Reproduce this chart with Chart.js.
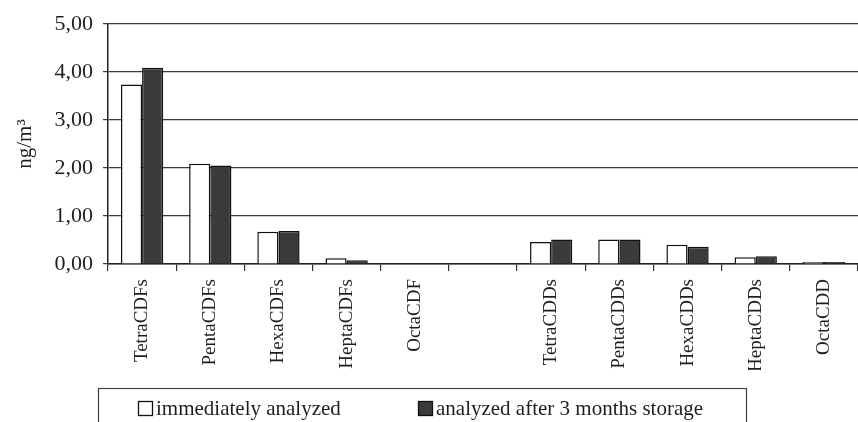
<!DOCTYPE html>
<html><head><meta charset="utf-8">
<script src="https://cdn.jsdelivr.net/npm/chart.js@4"></script>
<style>html,body{margin:0;padding:0;background:#fff}</style>
</head><body>
<canvas id="c" width="858" height="422"></canvas>
<script>
const categories = ['TetraCDFs','PentaCDFs','HexaCDFs','HeptaCDFs','OctaCDF','','TetraCDDs','PentaCDDs','HexaCDDs','HeptaCDDs','OctaCDD'];
const immediatelyAnalyzed = [3.74, 2.09, 0.67, 0.12, 0.01, null, 0.46, 0.51, 0.40, 0.14, 0.04];
const afterStorage        = [4.09, 2.05, 0.69, 0.08, 0.01, null, 0.51, 0.51, 0.36, 0.16, 0.04];
const seriesNames = ['immediately analyzed', 'analyzed after 3 months storage'];
const yTickValues = [0, 1, 2, 3, 4, 5];
const yTitle = 'ng/m\u00B3';

const FONT = '"Liberation Serif", "Times New Roman", serif';
const INK = '#1e1e1e';
const DARK = '#3a3a3a';

const legendBox = {
  id: 'legendBox',
  afterDraw(chart) {
    const ctx = chart.ctx;
    ctx.save();
    ctx.strokeStyle = '#444';
    ctx.lineWidth = 1.2;
    ctx.strokeRect(98.5, 388.5, 648, 60);
    ctx.font = '21px ' + FONT;
    ctx.textBaseline = 'alphabetic';
    const xs = [138, 418];
    chart.data.datasets.forEach((ds, i) => {
      const x = xs[i];
      ctx.fillStyle = ds.backgroundColor;
      ctx.fillRect(x, 401.5, 14, 14);
      ctx.strokeStyle = '#111';
      ctx.lineWidth = 1.3;
      ctx.strokeRect(x + 0.5, 401.5, 14, 14);
      ctx.fillStyle = INK;
      ctx.fillText(ds.label, x + 18, 415);
    });
    ctx.restore();
  }
};

new Chart(document.getElementById('c'), {
  type: 'bar',
  data: {
    labels: categories,
    datasets: [
      { label: seriesNames[0], data: immediatelyAnalyzed, backgroundColor: '#ffffff', borderColor: '#111', borderWidth: 1.5 },
      { label: seriesNames[1], data: afterStorage, backgroundColor: DARK, borderColor: '#111', borderWidth: 1.5 }
    ]
  },
  options: {
    responsive: false,
    animation: false,
    devicePixelRatio: 1,
    layout: { padding: { top: 24, left: 0, right: 0, bottom: 52 } },
    datasets: { bar: { categoryPercentage: 0.62, barPercentage: 1 } },
    plugins: { legend: { display: false }, tooltip: { enabled: false } },
    scales: {
      x: {
        afterFit(s) { s.height = 106; },
        grid: { display: true, drawOnChartArea: false, drawTicks: true, tickLength: 7, color: '#333', lineWidth: 1.2, offset: true },
        border: { display: true, color: '#222', width: 1.5 },
        ticks: { autoSkip: false, minRotation: 90, maxRotation: 90, padding: 8, color: INK, font: { family: FONT, size: 19 } }
      },
      y: {
        min: 0, max: 5,
        afterFit(s) { s.width = 108; },
        afterBuildTicks(s) { s.ticks = yTickValues.map(v => ({ value: v })); },
        grid: { color: '#3a3a3a', lineWidth: 1.2, tickLength: 5 },
        border: { display: true, color: '#222', width: 1.5 },
        ticks: { padding: 10, color: INK, font: { family: FONT, size: 22 },
          callback: v => v.toFixed(2).replace('.', ',') },
        title: { display: true, text: yTitle, color: INK, font: { family: FONT, size: 21 }, padding: { top: 13, bottom: 4 } }
      }
    }
  },
  plugins: [legendBox]
});
</script>
</body></html>
